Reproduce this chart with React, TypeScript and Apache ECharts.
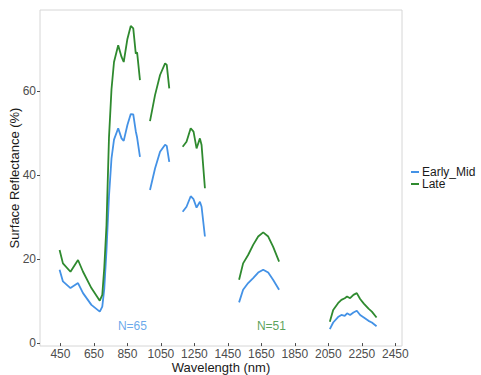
import React, { useEffect, useRef } from "react";
import * as echarts from "echarts";

// Spectral windows (nm) with mean surface reflectance (%) for each phenology group
const bandsVnir = [445, 465, 510, 555, 585, 635, 685, 700, 712, 725, 740, 755, 770, 795, 815, 828, 850, 870, 885, 900, 908, 925];
const earlyVnir = [17.5, 14.7, 13.1, 14.3, 11.9, 9.1, 7.5, 8.7, 13, 22, 35, 44, 48.5, 51.2, 48.8, 48.2, 52.0, 54.6, 54.5, 50.5, 49, 44.4];
const lateVnir = [22.2, 19.0, 17.0, 19.8, 17.0, 13.1, 10.1, 11.5, 18, 28, 49, 60.5, 67, 71.0, 68.2, 67.0, 72.5, 75.6, 75.0, 69.0, 69.3, 62.7];

const bandsNir2 = [985, 1015, 1045, 1075, 1085, 1100];
const earlyNir2 = [36.5, 41.6, 45.6, 47.3, 47.0, 43.2];
const lateNir2 = [52.9, 59.1, 63.9, 66.7, 66.3, 60.7];

const bandsNir3 = [1180, 1203, 1228, 1245, 1263, 1283, 1293, 1313];
const earlyNir3 = [31.3, 32.5, 35.0, 34.3, 32.3, 33.7, 32.5, 25.4];
const lateNir3 = [46.8, 48.0, 51.2, 50.4, 46.4, 48.8, 47.2, 36.9];

const bandsSwir1 = [1517, 1541, 1571, 1601, 1631, 1661, 1691, 1720, 1756];
const earlySwir1 = [9.7, 12.7, 14.3, 15.5, 16.8, 17.5, 16.8, 15.1, 12.7];
const lateSwir1 = [15.1, 19.0, 21.0, 23.4, 25.4, 26.4, 25.4, 23.0, 19.4];

const bandsSwir2 = [2059, 2079, 2108, 2128, 2148, 2162, 2180, 2200, 2220, 2240, 2262, 2290, 2310, 2338];
const earlySwir2 = [3.3, 4.9, 6.2, 6.7, 6.5, 7.1, 6.7, 7.3, 7.7, 6.7, 6.1, 5.3, 4.9, 4.0];
const lateSwir2 = [5.1, 7.9, 9.5, 10.3, 10.7, 11.1, 10.7, 11.5, 11.9, 10.5, 9.4, 8.2, 7.5, 6.1];

const groups = ["Early_Mid", "Late"];
const sampleLabels = ["N=65", "N=51"];
const sampleLabelPos = [[880, 4], [1710, 4]];

const xTicks = [450, 650, 850, 1050, 1250, 1450, 1650, 1850, 2050, 2250, 2450];
const yTicks = [0, 20, 40, 60];

const BLUE = "#4492e6";
const GREEN = "#2f8a2f";
const FONT = "Liberation Sans, Arial, sans-serif";

// Join the windows into one line, breaking it across the water-absorption gaps
function joinWindows(windows: [number[], number[]][]) {
  const out: (number | null)[][] = [];
  windows.forEach(([bands, vals], i) => {
    if (i > 0) out.push([bands[0] - 1, null]);
    bands.forEach((b, j) => out.push([b, vals[j]]));
  });
  return out;
}

export default function App() {
  const ref = useRef<HTMLDivElement>(null);

  useEffect(() => {
    document.body.style.margin = "0";
    if (!ref.current) return;
    const chart = echarts.init(ref.current, null, { renderer: "svg" });

    const early = joinWindows([
      [bandsVnir, earlyVnir],
      [bandsNir2, earlyNir2],
      [bandsNir3, earlyNir3],
      [bandsSwir1, earlySwir1],
      [bandsSwir2, earlySwir2],
    ]);
    const late = joinWindows([
      [bandsVnir, lateVnir],
      [bandsNir2, lateNir2],
      [bandsNir3, lateNir3],
      [bandsSwir1, lateSwir1],
      [bandsSwir2, lateSwir2],
    ]);

    const tickStyle = { show: true, length: 3, lineStyle: { color: "#4d4d4d", width: 1 } };

    chart.setOption({
      animation: false,
      backgroundColor: "#ffffff",
      grid: {
        left: 40,
        right: 79,
        top: 10,
        bottom: 29,
        outerBoundsMode: "none",
        containLabel: false,
        show: true,
        borderColor: "#d6d6d6",
        borderWidth: 1,
      },
      legend: {
        data: groups,
        orient: "vertical",
        left: 411,
        top: 166,
        padding: 0,
        itemGap: 0,
        itemWidth: 8,
        itemHeight: 2,
        icon: "rect",
        textStyle: { fontFamily: FONT, fontSize: 12, color: "#1a1a1a", padding: [0, 0, 0, -2], lineHeight: 10 },
      },
      xAxis: {
        type: "value",
        min: 328,
        max: 2490,
        name: "Wavelength (nm)",
        nameLocation: "middle",
        nameGap: 15,
        nameMoveOverlap: false,
        nameTextStyle: { fontFamily: FONT, fontSize: 13, lineHeight: 13, color: "#1a1a1a" },
        axisLine: { show: false },
        axisTick: { ...tickStyle, customValues: xTicks },
        axisLabel: {
          customValues: xTicks,
          formatter: (v: number) => String(v),
          fontFamily: FONT,
          fontSize: 12,
          lineHeight: 12,
          color: "#4d4d4d",
          margin: 2,
        },
        splitLine: { show: false },
      },
      yAxis: {
        type: "value",
        min: -0.7,
        max: 79.4,
        name: "Surface Reflectance (%)",
        nameLocation: "middle",
        nameGap: 19,
        nameMoveOverlap: false,
        nameTextStyle: { fontFamily: FONT, fontSize: 13, color: "#1a1a1a" },
        axisLine: { show: false },
        axisTick: { ...tickStyle, customValues: yTicks },
        axisLabel: {
          customValues: yTicks,
          formatter: (v: number) => String(v),
          fontFamily: FONT,
          fontSize: 12,
          color: "#4d4d4d",
          margin: 4,
        },
        splitLine: { show: false },
      },
      series: [
        {
          name: groups[0],
          type: "line",
          data: early,
          showSymbol: false,
          connectNulls: false,
          lineStyle: { color: BLUE, width: 1.8 },
          itemStyle: { color: BLUE },
        },
        {
          name: groups[1],
          type: "line",
          data: late,
          showSymbol: false,
          connectNulls: false,
          lineStyle: { color: GREEN, width: 1.8 },
          itemStyle: { color: GREEN },
        },
        {
          name: "samples",
          type: "scatter",
          symbolSize: 0,
          silent: true,
          data: sampleLabelPos.map((p, i) => ({
            value: p,
            label: {
              show: true,
              formatter: sampleLabels[i],
              position: "inside",
              fontFamily: FONT,
              fontSize: 12,
              color: i === 0 ? BLUE : GREEN,
            },
          })),
        },
      ],
    });

    return () => chart.dispose();
  }, []);

  return <div ref={ref} style={{ width: 481, height: 375 }} />;
}
